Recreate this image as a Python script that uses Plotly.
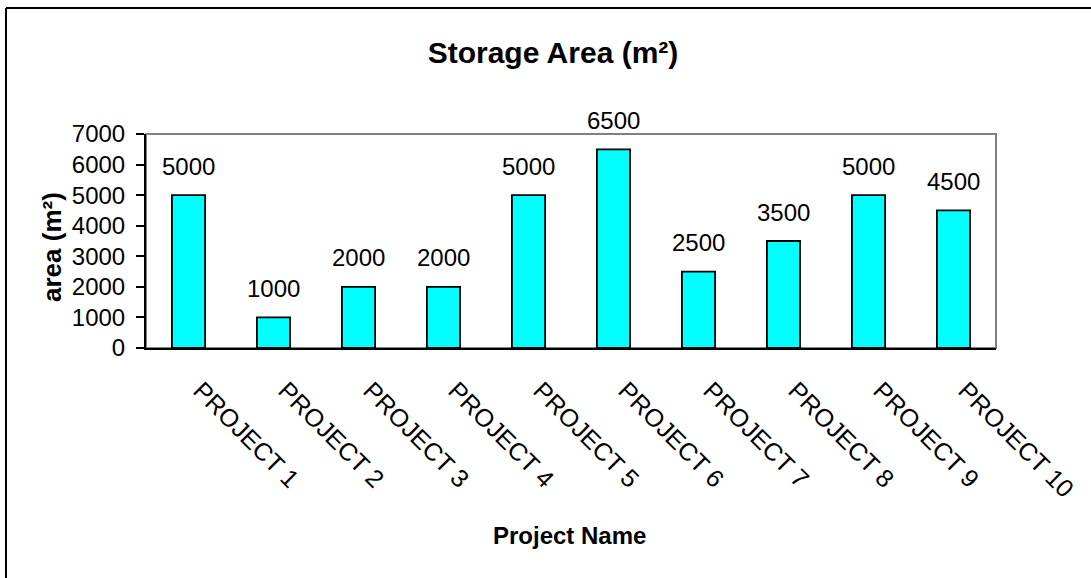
import plotly.graph_objects as go

categories = ["PROJECT 1", "PROJECT 2", "PROJECT 3", "PROJECT 4", "PROJECT 5",
              "PROJECT 6", "PROJECT 7", "PROJECT 8", "PROJECT 9", "PROJECT 10"]
areas = [5000, 1000, 2000, 2000, 5000, 6500, 2500, 3500, 5000, 4500]
y_ticks = [0, 1000, 2000, 3000, 4000, 5000, 6000, 7000]

FONT = "Liberation Sans, Arial, sans-serif"
W, H = 1091, 578
L, R, T, B = 146, 95, 134, 230
pw, ph = W - L - R, H - T - B

def px_x(px):
    return (px - L) / pw

def px_y(py):
    return (H - B - py) / ph

fig = go.Figure()
fig.add_trace(go.Bar(
    x=categories, y=areas, width=0.39,
    marker=dict(color="#00FFFF", line=dict(color="black", width=1.8)),
    hoverinfo="x+y",
))

annotations = []
for c, v in zip(categories, areas):
    annotations.append(dict(x=c, y=v, xref="x", yref="y", text=str(v),
                            showarrow=False, yanchor="middle", yshift=29,
                            font=dict(family=FONT, size=24, color="black")))

annotations.append(dict(x=px_x(52), y=px_y(247), xref="paper", yref="paper",
                        text="<b>area (m²)</b>", textangle=-90, showarrow=False,
                        xanchor="center", yanchor="middle",
                        font=dict(family=FONT, size=26, color="black")))
annotations.append(dict(x=px_x(569), y=px_y(535), xref="paper", yref="paper",
                        text="<b>Project Name</b>", showarrow=False,
                        xanchor="center", yanchor="middle",
                        font=dict(family=FONT, size=24, color="black")))

shapes = [
    dict(type="rect", xref="paper", yref="paper", x0=0, y0=0, x1=1, y1=1,
         line=dict(color="#808080", width=2), layer="below"),
    dict(type="line", xref="paper", yref="paper", x0=px_x(6), x1=px_x(1095),
         y0=px_y(8), y1=px_y(8), line=dict(color="black", width=2)),
    dict(type="line", xref="paper", yref="paper", x0=px_x(6), x1=px_x(6),
         y0=px_y(8), y1=px_y(585), line=dict(color="black", width=2)),
]

fig.update_layout(
    width=W, height=H,
    margin=dict(l=L, r=R, t=T, b=B),
    paper_bgcolor="white", plot_bgcolor="white",
    showlegend=False,
    font=dict(family=FONT, color="black"),
    title=dict(text="<b>Storage Area (m²)</b>", x=553 / W, xref="container",
               y=1 - 52 / H, yref="container", xanchor="center", yanchor="middle",
               font=dict(family=FONT, size=30, color="black")),
    annotations=annotations,
    shapes=shapes,
    bargap=0.61,
)
fig.update_xaxes(
    showline=True, linecolor="black", linewidth=2, showgrid=False,
    tickangle=45, ticks="", ticklabelstandoff=16, ticklabelshift=12,
    tickfont=dict(family=FONT, size=25, color="black"),
)
fig.update_yaxes(
    range=[0, 7000], tickvals=y_ticks, showline=True, linecolor="black", linewidth=2,
    showgrid=False, zeroline=False, ticks="outside", ticklen=8, tickwidth=1.5,
    tickcolor="black", ticklabelstandoff=6,
    tickfont=dict(family=FONT, size=24, color="black"),
)

fig.write_html("out.html")
